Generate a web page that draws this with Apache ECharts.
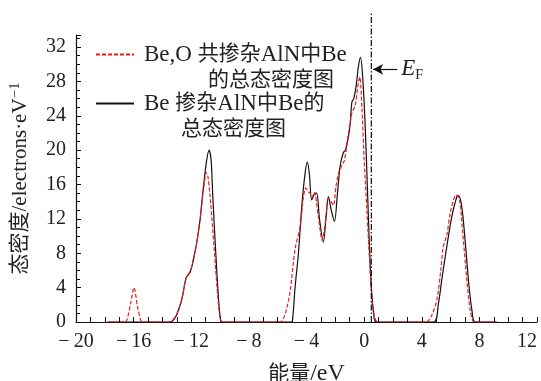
<!DOCTYPE html>
<html lang="zh">
<head>
    <meta charset="UTF-8">
    <script src="https://cdn.jsdelivr.net/npm/echarts@6/dist/echarts.min.js"></script>
    <title>Be 掺杂 AlN 总态密度</title>
</head>
<style>
    body{
        margin: 0;
        padding: 0;
        background: #fff;
    }
</style>
<body>
<div id="dos" style="width: 541px;height:381px;"></div>
</body>
<script>
    // 能量 (eV) 与态密度 (electrons/eV)
    var energyBeO = [-17.8, -16.6, -16.45, -16.2, -15.97, -15.75, -15.5, -15.3,
        -13.5, -13.3, -13.0, -12.66, -12.36, -12.08, -11.9, -11.62, -11.39, -11.18, -10.95, -10.85, -10.69, -10.42, -10.12, -9.95, -9.8,
        -5.83, -5.6, -5.4, -5.14, -4.79, -4.44, -4.21, -4.05, -3.9, -3.75, -3.62, -3.45, -3.2, -2.9, -2.7, -2.48, -2.3, -2.13, -1.95, -1.78, -1.55, -1.37, -1.09, -0.85, -0.62, -0.44, -0.3, -0.15, 0.0, 0.19, 0.42, 0.58, 0.76, 0.95,
        4.3, 4.7, 5.05, 5.32, 5.5, 5.74, 5.97, 6.2, 6.39, 6.62, 6.85, 7.13, 7.36, 7.55, 7.7, 9.2];
    var dosBeO = [0, 0, 0.3, 2.2, 4.0, 2.0, 0.2, 0,
        0, 0.2, 0.9, 2.6, 5.1, 5.9, 6.9, 9.2, 11.9, 15.0, 17.4, 17.0, 14.6, 8.8, 2.2, 0.2, 0,
        0, 0.4, 1.4, 3.5, 8.5, 11.1, 14.6, 15.6, 15.2, 15.0, 14.5, 15.1, 12.5, 9.5, 11.5, 14.4, 14.0, 13.6, 15.8, 17.3, 18.2, 18.8, 21.9, 24.3, 25.2, 27.4, 28.5, 24.8, 19.0, 13.0, 6.0, 2.0, 0.4, 0,
        0, 0.8, 2.6, 6.0, 8.8, 10.1, 12.6, 14.2, 14.8, 14.2, 10.3, 4.9, 1.4, 0.1, 0, 0];

    var energyBe = [-17.8, -13.45, -13.2, -13.0, -12.66, -12.36, -12.08, -11.9, -11.62, -11.39, -11.18, -10.95, -10.76, -10.62, -10.5, -10.23, -10.0, -9.85,
        -5.05, -4.95, -4.79, -4.56, -4.33, -4.1, -3.94, -3.8, -3.64, -3.45, -3.29, -3.1, -2.83, -2.65, -2.48, -2.28, -2.06, -1.85, -1.67, -1.45, -1.3, -1.1, -0.97, -0.85, -0.72, -0.55, -0.4, -0.25, -0.1, 0.07, 0.25, 0.45, 0.65, 0.85,
        4.81, 5.16, 5.39, 5.74, 6.09, 6.44, 6.55, 6.78, 7.01, 7.24, 7.48, 7.71, 9.2];
    var dosBe = [0, 0, 0.3, 0.9, 2.6, 5.1, 5.8, 6.9, 9.2, 11.9, 15.3, 18.6, 20.0, 18.8, 14.5, 6.0, 0.6, 0,
        0, 0.6, 4.1, 8.0, 13.4, 17.3, 18.6, 17.2, 14.2, 14.9, 15.0, 12.0, 9.3, 12.0, 14.6, 13.0, 11.7, 15.0, 18.1, 19.7, 20.0, 21.5, 23.0, 25.6, 26.0, 27.5, 29.7, 30.8, 28.5, 23.0, 14.5, 5.5, 1.2, 0,
        0, 2.2, 4.9, 8.8, 12.3, 14.6, 14.7, 13.4, 9.5, 4.9, 1.4, 0, 0];

    var nameBeO = 'Be,O 共掺杂AlN中Be的总态密度图';
    var nameBe = 'Be 掺杂AlN中Be的总态密度图';
    var fermiLevel = 0.5;   // 图中 E_F 虚线位置
    var xTicks = {min: -20, max: 12, step: 4};
    var yTicks = {min: 0, max: 33.4, step: 4};

    function pairs(xs, ys) {
        var out = [];
        for (var i = 0; i < xs.length; i++) {
            out.push([xs[i], ys[i]]);
        }
        return out;
    }

    var serif = "'Liberation Serif', 'Noto Sans CJK SC', serif";

    function tickText(v) {
        return v < 0 ? '\u2212\u2009' + (-v) : String(v);
    }

    // 图例文字：拉丁字母略大，中文 21px，第二行缩进
    function legendRich(indent) {
        var base = {lineHeight: 26, fontFamily: serif, color: '#222'};
        return {
            s: Object.assign({}, base, {fontSize: 21}),
            a: Object.assign({}, base, {fontSize: 21}),
            l: Object.assign({}, base, {fontSize: 23}),
            p: Object.assign({}, base, {fontSize: 23, padding: [0, 0, 0, 5]}),
            b: Object.assign({}, base, {fontSize: 21, padding: [0, 0, 0, indent]})
        };
    }

    var chart = echarts.init(document.getElementById('dos'), null, {renderer: 'canvas'});
    var option = {
        animation: false,
        grid: {left: 76, right: 4, top: 35, bottom: 59, outerBoundsMode: 'none', containLabel: false},
        legend: [{
            data: [nameBeO],
            left: 95, top: 18,
            padding: 0,
            itemWidth: 38, itemHeight: 14,
            itemStyle: {opacity: 0},
            selectedMode: false,
            formatter: function () {
                return '{s| }\n{p|Be,O }{a|共掺杂}{l|AlN}{a|中}{l|Be}\n{b|的总态密度图}';
            },
            textStyle: {fontFamily: serif, fontSize: 21, color: '#222', rich: legendRich(69)}
        }, {
            data: [nameBe],
            left: 95, top: 67,
            padding: 0,
            itemWidth: 38, itemHeight: 14,
            itemStyle: {opacity: 0},
            selectedMode: false,
            formatter: function () {
                return '{s| }\n{p|Be }{a|掺杂}{l|AlN}{a|中}{l|Be}{a|的}\n{b|总态密度图}';
            },
            textStyle: {fontFamily: serif, fontSize: 21, color: '#222', rich: legendRich(42)}
        }],
        xAxis: {
            type: 'value',
            min: xTicks.min, max: xTicks.max, interval: xTicks.step,
            name: '能量{l|/eV}',
            nameLocation: 'middle',
            nameGap: 40,
            nameTextStyle: {
                fontFamily: serif, fontSize: 21, color: '#222',
                rich: {l: {fontFamily: serif, fontSize: 24, color: '#222'}}
            },
            axisLine: {show: true, onZero: false, lineStyle: {color: '#111', width: 1.2}},
            axisTick: {show: true, inside: true, length: 5, lineStyle: {color: '#111'}},
            minorTick: {show: true, splitNumber: 4, length: 5, lineStyle: {color: '#111'}},
            splitLine: {show: false},
            minorSplitLine: {show: false},
            axisLabel: {fontFamily: serif, fontSize: 20, color: '#222', margin: 10, formatter: tickText, alignMaxLabel: 'right'}
        },
        yAxis: {
            type: 'value',
            min: yTicks.min, max: yTicks.max, interval: yTicks.step,
            name: '态密度/electrons·eV{sup|\u22121}',
            nameLocation: 'middle',
            nameGap: 43,
            nameRotate: 90,
            nameTextStyle: {
                fontFamily: serif, fontSize: 21, color: '#222',
                rich: {sup: {fontFamily: serif, fontSize: 14, color: '#222', padding: [0, 0, 11, 1]}}
            },
            axisLine: {show: true, onZero: false, lineStyle: {color: '#111', width: 1.2}},
            axisTick: {show: true, inside: true, length: 5, lineStyle: {color: '#111'}},
            minorTick: {show: true, splitNumber: 4, length: 4, lineStyle: {color: '#111'}},
            splitLine: {show: false},
            minorSplitLine: {show: false},
            axisLabel: {fontFamily: serif, fontSize: 20, color: '#222', margin: 10, showMaxLabel: false}
        },
        series: [{
            name: nameBe,
            type: 'line',
            data: pairs(energyBe, dosBe),
            smooth: 0.3,
            symbol: 'none',
            z: 2,
            lineStyle: {color: '#111', width: 1.2}
        }, {
            name: nameBeO,
            type: 'line',
            data: pairs(energyBeO, dosBeO),
            smooth: 0.3,
            symbol: 'none',
            z: 3,
            lineStyle: {color: '#ee1c1c', width: 1.2, type: [4, 2]}
        }, {
            name: 'EF',
            type: 'line',
            data: [[fermiLevel, 0], [fermiLevel, 35.9]],
            clip: false,
            symbol: 'none',
            silent: true,
            z: 4,
            lineStyle: {color: '#111', width: 1.2, type: [6, 2, 1.5, 2]},
            markLine: {
                silent: true,
                symbol: ['arrow', 'none'],
                symbolSize: [8, 10],
                lineStyle: {color: '#111', width: 1.2, type: 'solid'},
                label: {
                    show: true,
                    position: 'end',
                    distance: 4,
                    formatter: '{e|E}{f|F}',
                    rich: {
                        e: {fontFamily: serif, fontStyle: 'italic', fontSize: 23, color: '#222'},
                        f: {fontFamily: serif, fontSize: 14, color: '#222', padding: [11, 0, 0, 0]}
                    }
                },
                data: [[{coord: [fermiLevel + 0.12, 29.4]}, {coord: [fermiLevel + 1.8, 29.4]}]]
            }
        }]
    };
    chart.setOption(option);
</script>
</html>
